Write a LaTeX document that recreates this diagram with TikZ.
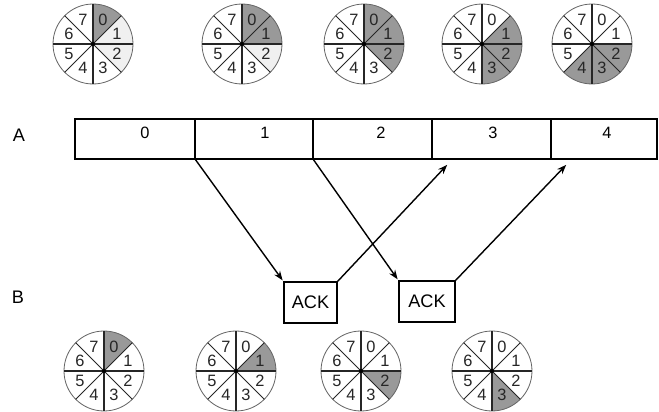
\documentclass[tikz,border=0pt]{standalone}
\usepackage{fontspec}
\setmainfont{Liberation Sans}
\usepackage{tikz}
\usetikzlibrary{arrows.meta}

\definecolor{sent}{gray}{0.6}
\definecolor{pend}{gray}{0.94}

% one sector of a window wheel: centre, number, colour
\newcommand{\slice}[3]{%
  \fill[#3] (#1) -- ++({90-45*#2}:40) arc[start angle={90-45*#2},end angle={45-45*#2},radius=40] -- cycle;}

% wheel outline, spokes and numbers: centre, name
\newcommand{\seqwheel}[2]{%
  \coordinate (#2) at (#1);
  \draw[rim] (#2) circle[radius=40];
  \foreach \a in {45,135,225,315} {\draw[spoke] (#2) -- ++(\a:40);}
  \foreach \a in {0,90,180,270} {\draw[axis] (#2) -- ++(\a:40);}
  \fill (#2) circle[radius=2];
  \foreach \j in {0,...,7} {\path (#2) ++({67.5-45*\j}:26) node[seqno] {\j};}
}

\begin{document}
\begin{tikzpicture}[x=0.03cm,y=0.03cm,
    rim/.style={line width=0.7pt,black!60},
    spoke/.style={line width=0.7pt,black!85},
    axis/.style={line width=1.2pt,black!85},
    seqno/.style={font=\fontsize{14}{14}\selectfont,text=black!85,inner sep=0pt},
    cellno/.style={font=\fontsize{14}{14}\selectfont,inner sep=0pt},
    side/.style={font=\fontsize{15.5}{15.5}\selectfont,inner sep=0pt},
    bar/.style={line width=1.3pt},
    ackbox/.style={draw,line width=1.2pt,minimum height=1.23cm,inner sep=0pt,font=\fontsize{15.5}{15.5}\selectfont},
    link/.style={line width=1.2pt,shorten >=1pt,-{Stealth[length=8pt,width=6pt]}}]
\useasboundingbox (0,0) rectangle (659,412);

% sender wheels
\foreach \k in {1,2} {\slice{93,368}{\k}{pend}}
\slice{93,368}{0}{sent}
\seqwheel{93,368}{s1}
\slice{242,368}{2}{pend}
\foreach \k in {0,1} {\slice{242,368}{\k}{sent}}
\seqwheel{242,368}{s2}
\foreach \k in {0,1,2} {\slice{364,368}{\k}{sent}}
\seqwheel{364,368}{s3}
\foreach \k in {1,2,3} {\slice{482,368}{\k}{sent}}
\seqwheel{482,368}{s4}
\foreach \k in {2,3,4} {\slice{592,368}{\k}{sent}}
\seqwheel{592,368}{s5}

% receiver wheels
\foreach \m/\x in {0/104,1/236,2/361,3/492} {
  \slice{\x,41}{\m}{sent}
  \seqwheel{\x,41}{r\m}
}

% frames on the line
\node[side] (lblA) at (19,277) {A};
\node[side] (lblB) at (18,115) {B};
\draw[bar] (75,253) rectangle (657,293);
\foreach \x in {195,313,432,551} {\draw[bar] (\x,253) -- (\x,293);}
\coordinate (d1) at (195,253);
\coordinate (d2) at (313,253);
\foreach \n/\x in {0/145,1/265,2/381,3/493,4/607} {\node[cellno] (n\n) at (\x,279) {\n};}

% acknowledgements
\node[ackbox,minimum width=1.59cm] (ack1) at (310.5,109.5) {ACK};
\node[ackbox,minimum width=1.68cm] (ack2) at (427,110.5) {ACK};
\coordinate (t3) at (448,248);
\coordinate (t4) at (567,248);
\draw[link] (d1) -- (ack1.north west);
\draw[link] (d2) -- (ack2.north west);
\draw[link] (ack1.north east) -- (t3);
\draw[link] (ack2.north east) -- (t4);
\end{tikzpicture}
\end{document}
